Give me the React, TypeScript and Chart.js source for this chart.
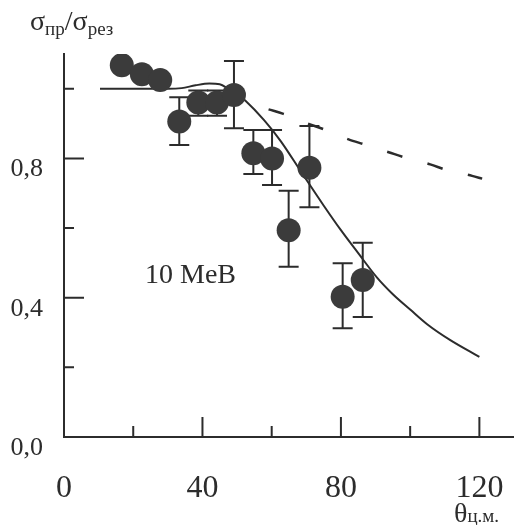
import React, { useEffect, useRef } from 'react';
import { Chart, registerables } from 'chart.js';

Chart.register(...registerables);

// ---- data ----
const pointAngles = [16.7, 22.5, 27.8, 33.3, 38.8, 44.2, 49.1, 54.7, 60.1, 64.9, 70.9, 80.5, 86.3];
const pointRatios = [1.068, 1.042, 1.025, 0.906, 0.961, 0.961, 0.982, 0.815, 0.8, 0.594, 0.773, 0.403, 0.451];
const errUpper: (number | null)[] = [null, null, null, 0.976, 0.995, 0.995, 1.08, 0.882, 0.882, 0.707, 0.893, 0.499, 0.558];
const errLower: (number | null)[] = [null, null, null, 0.839, 0.923, 0.923, 0.887, 0.755, 0.724, 0.489, 0.66, 0.312, 0.345];

const solidAngles = [10.4, 20, 30, 34, 38, 42, 45, 47.5, 50, 52.5, 57.8, 62.6, 68.8, 75, 80, 85, 90.5, 95, 100, 105, 111.6, 120];
const solidRatios = [1.0, 1.0, 1.0, 1.002, 1.01, 1.015, 1.013, 1.0, 0.985, 0.965, 0.91, 0.85, 0.757, 0.665, 0.594, 0.528, 0.457, 0.41, 0.366, 0.323, 0.278, 0.23];

const dashAngles = [59.1, 63.4, 70, 75, 82.2, 86.6, 93.8, 98.4, 105.8, 110.5, 117.9, 120.8];
const dashRatios = [0.941, 0.928, 0.902, 0.884, 0.855, 0.841, 0.818, 0.803, 0.783, 0.767, 0.75, 0.742];

const xTickLabels = [0, 40, 80, 120];
const yTickLabels = [0, 0.4, 0.8];
const xMinorTicks = [20, 60, 100];
const xMajorTicks = [40, 80, 120];
const yMinorTicks = [0.2, 0.6, 1.0];
const yMajorTicks = [0.4, 0.8];

const annotationText = '10 MeB';

const INK = '#2c2c2c';
const DOT = '#3b3b3b';
const SERIF = '"Liberation Serif", "Times New Roman", serif';

const decorPlugin = {
  id: 'decor',
  beforeDatasetsDraw(chart: any) {
    const ctx = chart.ctx;
    const xs = chart.scales.x;
    const ys = chart.scales.y;
    ctx.save();
    ctx.strokeStyle = INK;
    ctx.lineWidth = 2;
    pointAngles.forEach((a, i) => {
      const hi = errUpper[i];
      const lo = errLower[i];
      if (hi == null || lo == null) return;
      const px = xs.getPixelForValue(a);
      const pt = ys.getPixelForValue(hi);
      const pb = ys.getPixelForValue(lo);
      ctx.beginPath();
      ctx.moveTo(px, pt);
      ctx.lineTo(px, pb);
      ctx.moveTo(px - 10, pt);
      ctx.lineTo(px + 10, pt);
      ctx.moveTo(px - 10, pb);
      ctx.lineTo(px + 10, pb);
      ctx.stroke();
    });
    ctx.restore();
  },
  afterDraw(chart: any) {
    const ctx = chart.ctx;
    const xs = chart.scales.x;
    const ys = chart.scales.y;
    const area = chart.chartArea;
    ctx.save();
    ctx.strokeStyle = INK;
    ctx.lineWidth = 2;
    ctx.beginPath();
    yMinorTicks.forEach((v) => {
      const py = ys.getPixelForValue(v);
      ctx.moveTo(area.left, py);
      ctx.lineTo(area.left + 10, py);
    });
    yMajorTicks.forEach((v) => {
      const py = ys.getPixelForValue(v);
      ctx.moveTo(area.left, py);
      ctx.lineTo(area.left + 20, py);
    });
    xMinorTicks.forEach((v) => {
      const px = xs.getPixelForValue(v);
      ctx.moveTo(px, area.bottom);
      ctx.lineTo(px, area.bottom - 11);
    });
    xMajorTicks.forEach((v) => {
      const px = xs.getPixelForValue(v);
      ctx.moveTo(px, area.bottom);
      ctx.lineTo(px, area.bottom - 20);
    });
    ctx.stroke();

    ctx.fillStyle = INK;
    ctx.textBaseline = 'alphabetic';
    ctx.textAlign = 'left';

    // y-axis title: σпр/σрез
    const big = `28px ${SERIF}`;
    const small = `19px ${SERIF}`;
    let x = 30;
    const base = 30;
    const parts: [string, string, number][] = [
      ['σ', big, base],
      ['пр', small, base + 5],
      ['/', big, base],
      ['σ', big, base],
      ['рез', small, base + 5],
    ];
    parts.forEach(([t, f, b]) => {
      ctx.font = f;
      ctx.fillText(t, x, b);
      x += ctx.measureText(t).width;
    });

    // x-axis title: θц.м.
    ctx.font = `28px ${SERIF}`;
    let tx = 454;
    ctx.fillText('θ', tx, 522);
    tx += ctx.measureText('θ').width;
    ctx.font = `19px ${SERIF}`;
    ctx.fillText('ц.м.', tx, 522);

    // annotation
    ctx.font = `28px ${SERIF}`;
    ctx.fillText(annotationText, 145, 283);
    ctx.restore();
  },
};

export default function App() {
  const canvasRef = useRef<HTMLCanvasElement | null>(null);

  useEffect(() => {
    const canvas = canvasRef.current;
    if (!canvas) return;
    const chart = new Chart(canvas, {
      type: 'scatter',
      data: {
        datasets: [
          {
            label: 'experiment',
            data: pointAngles.map((a, i) => ({ x: a, y: pointRatios[i] })),
            pointRadius: 12,
            pointHoverRadius: 12,
            backgroundColor: DOT,
            borderWidth: 0,
            showLine: false,
          },
          {
            label: 'solid',
            data: solidAngles.map((a, i) => ({ x: a, y: solidRatios[i] })),
            showLine: true,
            borderColor: INK,
            borderWidth: 2,
            pointRadius: 0,
            cubicInterpolationMode: 'monotone',
            fill: false,
          },
          {
            label: 'dashed',
            data: dashAngles.map((a, i) => ({ x: a, y: dashRatios[i] })),
            showLine: true,
            borderColor: INK,
            borderWidth: 2.5,
            borderDash: [16, 26],
            pointRadius: 0,
            cubicInterpolationMode: 'monotone',
            fill: false,
          },
        ],
      },
      options: {
        animation: false,
        responsive: false,
        maintainAspectRatio: false,
        layout: { autoPadding: false, padding: { top: 54, right: 0, left: 0, bottom: 0 } },
        plugins: {
          legend: { display: false },
          tooltip: { enabled: false },
        },
        scales: {
          x: {
            type: 'linear',
            min: 0,
            max: 130,
            afterFit: (s: any) => {
              s.height = 88;
              s.paddingLeft = 0;
              s.paddingRight = 0;
            },
            afterBuildTicks: (s: any) => {
              s.ticks = xTickLabels.map((v) => ({ value: v }));
            },
            grid: { display: false, drawTicks: false },
            border: { display: true, color: INK, width: 2 },
            ticks: {
              padding: 32,
              color: INK,
              font: { family: SERIF, size: 32 },
              callback: (v: any) => String(v),
            },
          },
          y: {
            type: 'linear',
            min: 0,
            max: 1.1,
            afterFit: (s: any) => {
              s.width = 64;
              s.paddingTop = 0;
              s.paddingBottom = 0;
            },
            afterBuildTicks: (s: any) => {
              s.ticks = yTickLabels.map((v) => ({ value: v }));
            },
            grid: { display: false, drawTicks: false },
            border: { display: true, color: INK, width: 2 },
            ticks: {
              padding: 21,
              labelOffset: 11,
              color: INK,
              font: { family: SERIF, size: 26 },
              callback: (v: any) => Number(v).toFixed(1).replace('.', ','),
            },
          },
        },
      } as any,
      plugins: [decorPlugin],
    });
    return () => chart.destroy();
  }, []);

  return (
    <div style={{ position: 'absolute', left: 0, top: 0, width: 514, height: 525, background: '#ffffff' }}>
      <canvas ref={canvasRef} width={514} height={525} style={{ width: 514, height: 525, display: 'block' }} />
    </div>
  );
}
